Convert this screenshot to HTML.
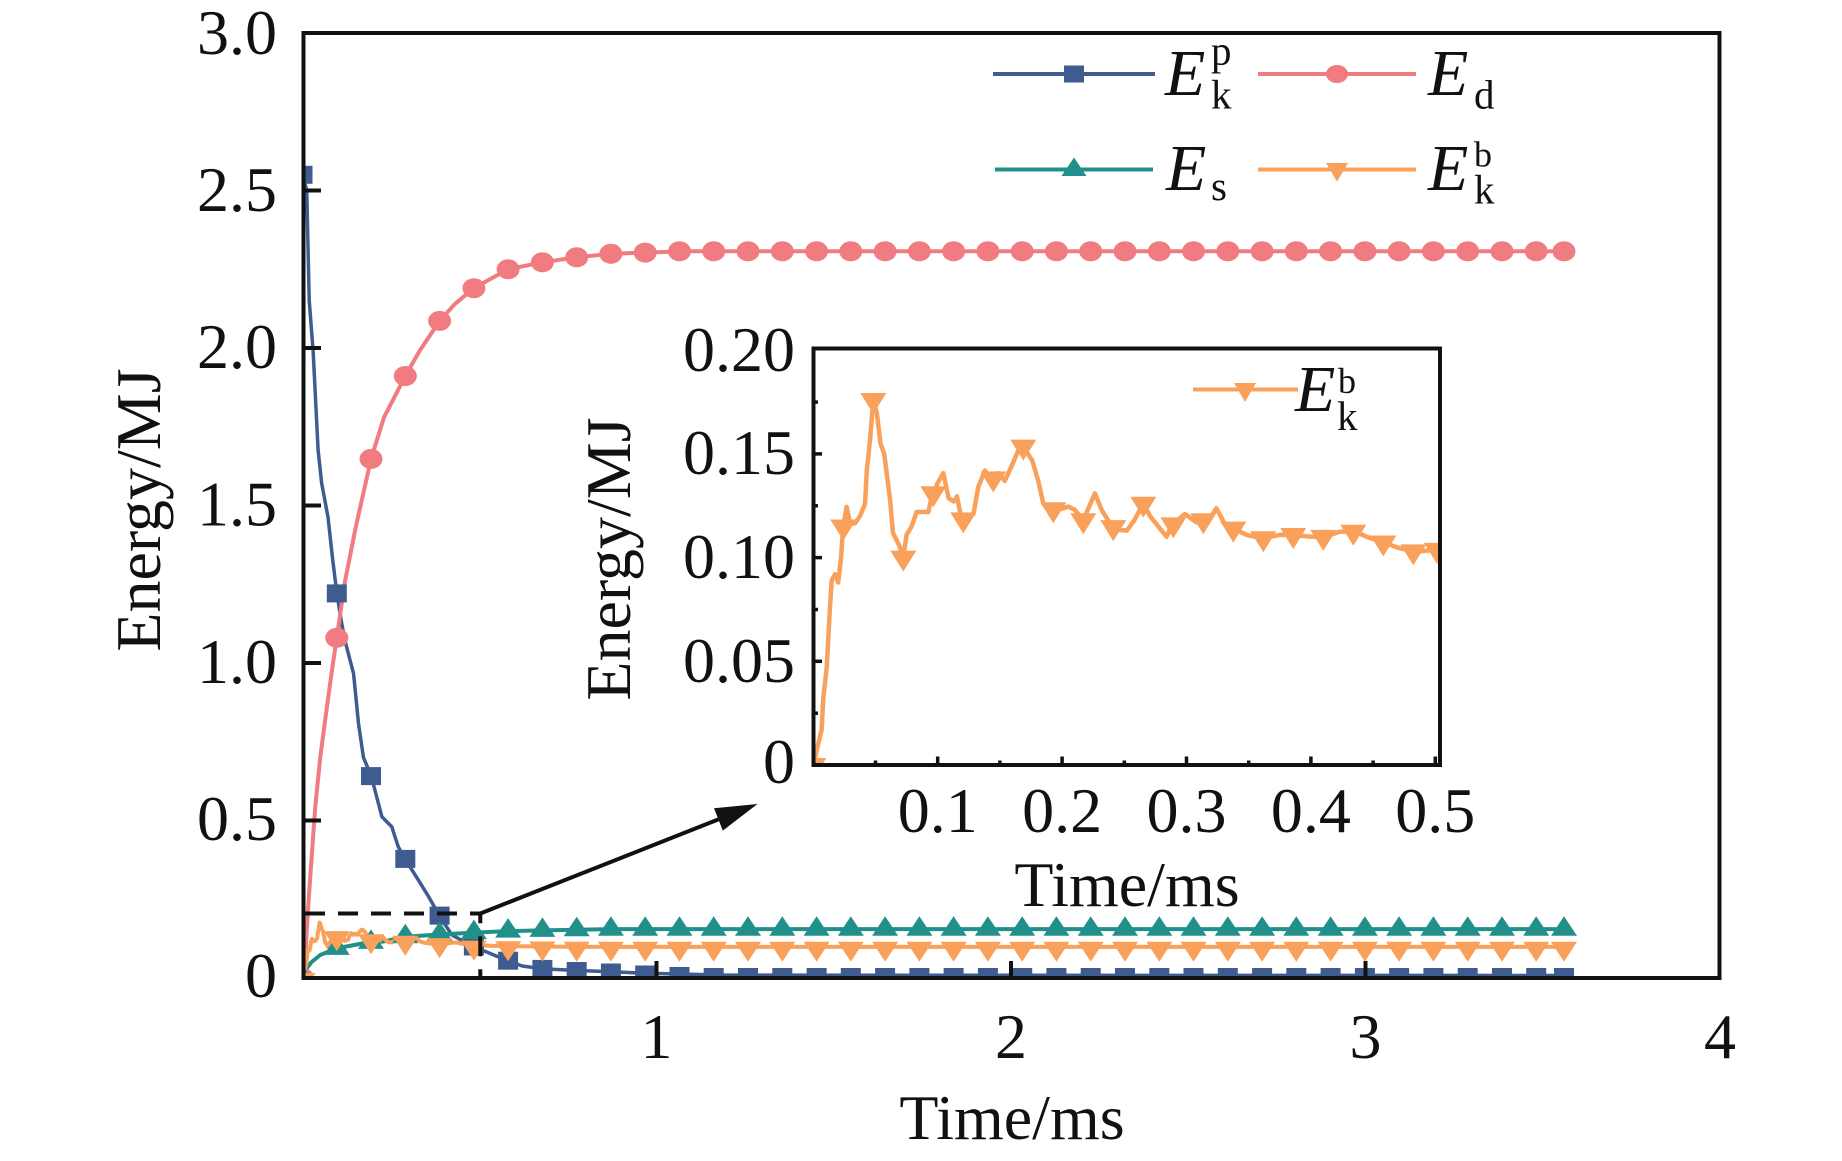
<!DOCTYPE html>
<html><head><meta charset="utf-8"><style>
html,body{margin:0;padding:0;background:#fff;}
svg{display:block;}
text{font-family:"Liberation Serif","Times New Roman",serif;fill:#111;}
</style></head><body>
<svg width="1842" height="1161" viewBox="0 0 1842 1161" xmlns="http://www.w3.org/2000/svg">
<defs>
<clipPath id="cm"><rect x="305" y="35" width="1413" height="941"/></clipPath>
<clipPath id="ci2"><rect x="815.5" y="350.5" width="622.5" height="412.5"/></clipPath>
<rect id="sq" x="-10" y="-9" width="20" height="18" fill="#3e5c8f"/>
<ellipse id="ci" rx="11.5" ry="10" fill="#f07b80"/>
<polygon id="tu" points="0,-13 13,6.5 -13,6.5" fill="#22908a"/>
<polygon id="td" points="0,15 13,-5 -13,-5" fill="#f9a05b"/>
<polygon id="td2" points="0,14 13,-7 -13,-7" fill="#f9a05b"/>
</defs>
<rect width="1842" height="1161" fill="#fff"/>

<!-- main series -->
<g clip-path="url(#cm)">
 <g transform="translate(302.5,978) scale(354.4,-315)" fill="none" stroke-linejoin="round" stroke-linecap="round">
  <path vector-effect="non-scaling-stroke" stroke="#3e5c8f" stroke-width="3.5" d="M0,2.55 L0.012,2.5 L0.019,2.15 L0.03,1.99 L0.044,1.676 L0.054,1.571 L0.072,1.463 L0.085,1.33 L0.097,1.221 L0.11,1.13 L0.12,1.07 L0.144,0.967 L0.158,0.808 L0.172,0.7 L0.194,0.641 L0.224,0.512 L0.252,0.48 L0.27,0.417 L0.289,0.378 L0.327,0.311 L0.356,0.258 L0.386,0.198 L0.421,0.137 L0.468,0.108 L0.506,0.089 L0.54,0.073 L0.578,0.055 L0.62,0.038 L0.68,0.029 L0.777,0.024 L0.873,0.02 L0.967,0.015 L1.2,0.009 L3.56,0.008"/>
  <path vector-effect="non-scaling-stroke" stroke="#f07b80" stroke-width="4" d="M0,0 L0.007,0.05 L0.016,0.226 L0.036,0.544 L0.05,0.7 L0.069,0.861 L0.082,0.968 L0.0967,1.08 L0.12,1.26 L0.15,1.43 L0.1934,1.648 L0.23,1.78 L0.29,1.911 L0.33,1.99 L0.387,2.086 L0.43,2.14 L0.4835,2.19 L0.58,2.25 L0.677,2.272 L0.774,2.288 L0.87,2.299 L0.967,2.303 L1.1,2.307 L3.56,2.307"/>
  <path vector-effect="non-scaling-stroke" stroke="#22908a" stroke-width="4" d="M0,0 L0.008,0.025 L0.025,0.05 L0.05,0.073 L0.0967,0.094 L0.17,0.11 L0.1934,0.113 L0.23,0.116 L0.29,0.131 L0.387,0.138 L0.4835,0.144 L0.58,0.149 L0.677,0.151 L0.774,0.153 L0.87,0.155 L3.56,0.155"/>
  <path vector-effect="non-scaling-stroke" stroke="#f9a05b" stroke-width="4" d="M0,0 L0.0067,0.017 L0.008,0.032 L0.0108,0.047 L0.0134,0.076 L0.0148,0.089 L0.0175,0.092 L0.02,0.088 L0.0223,0.1 L0.024,0.115 L0.0268,0.1245 L0.0295,0.1165 L0.0335,0.1165 L0.0375,0.12 L0.0416,0.126 L0.043,0.142 L0.0456,0.1567 L0.0482,0.176 L0.051,0.17 L0.054,0.155 L0.057,0.15 L0.0617,0.128 L0.064,0.112 L0.0697,0.105 L0.072,0.099 L0.075,0.111 L0.079,0.115 L0.083,0.122 L0.0925,0.122 L0.095,0.129 L0.1,0.136 L0.1045,0.1407 L0.1088,0.1286 L0.113,0.127 L0.1155,0.1295 L0.1193,0.118 L0.1287,0.121 L0.1326,0.134 L0.138,0.142 L0.1434,0.1374 L0.1487,0.1407 L0.154,0.137 L0.159,0.1436 L0.1648,0.1516 L0.1688,0.1535 L0.176,0.1468 L0.1808,0.137 L0.1849,0.126 L0.189,0.1236 L0.197,0.123 L0.205,0.1246 L0.2103,0.123 L0.217,0.118 L0.2264,0.131 L0.2318,0.123 L0.24,0.115 L0.2466,0.1133 L0.252,0.113 L0.258,0.118 L0.2653,0.126 L0.2707,0.12 L0.2787,0.114 L0.284,0.11 L0.288,0.1157 L0.2988,0.121 L0.308,0.117 L0.319,0.119 L0.324,0.1238 L0.33,0.117 L0.3376,0.114 L0.3484,0.1109 L0.3617,0.1093 L0.375,0.111 L0.3859,0.1109 L0.3992,0.1101 L0.4113,0.11 L0.4233,0.1125 L0.4354,0.1125 L0.445,0.11 L0.4596,0.107 L0.4716,0.1045 L0.4837,0.1028 L0.4997,0.1037 L0.504,0.103 L0.58,0.101 L0.677,0.1 L0.774,0.099 L3.56,0.099"/>
 </g>
 <!-- blue squares -->
 <g>
  <use href="#sq" x="302.5" y="174.8"/><use href="#sq" x="336.8" y="593.4"/><use href="#sq" x="371" y="776.1"/><use href="#sq" x="405.3" y="858.9"/><use href="#sq" x="439.6" y="915.6"/><use href="#sq" x="473.9" y="946.5"/><use href="#sq" x="508.1" y="960.7"/><use href="#sq" x="542.4" y="968.9"/><use href="#sq" x="576.7" y="971"/><use href="#sq" x="610.9" y="972.5"/><use href="#sq" x="645.2" y="974.5"/><use href="#sq" x="679.5" y="976"/><use href="#sq" x="713.7" y="977"/><use href="#sq" x="748" y="977"/><use href="#sq" x="782.3" y="977"/><use href="#sq" x="816.6" y="977"/><use href="#sq" x="850.8" y="977"/><use href="#sq" x="885.1" y="977"/><use href="#sq" x="919.4" y="977"/><use href="#sq" x="953.6" y="977"/><use href="#sq" x="987.9" y="977"/><use href="#sq" x="1022.2" y="977"/><use href="#sq" x="1056.4" y="977"/><use href="#sq" x="1090.7" y="977"/><use href="#sq" x="1125" y="977"/><use href="#sq" x="1159.3" y="977"/><use href="#sq" x="1193.5" y="977"/><use href="#sq" x="1227.8" y="977"/><use href="#sq" x="1262.1" y="977"/><use href="#sq" x="1296.3" y="977"/><use href="#sq" x="1330.6" y="977"/><use href="#sq" x="1364.9" y="977"/><use href="#sq" x="1399.1" y="977"/><use href="#sq" x="1433.4" y="977"/><use href="#sq" x="1467.7" y="977"/><use href="#sq" x="1502" y="977"/><use href="#sq" x="1536.2" y="977"/><use href="#sq" x="1564" y="977"/>
 </g>
 <!-- pink circles -->
 <g>
  <use href="#ci" x="302.5" y="978"/><use href="#ci" x="336.8" y="637.8"/><use href="#ci" x="371" y="458.9"/><use href="#ci" x="405.3" y="376"/><use href="#ci" x="439.6" y="320.9"/><use href="#ci" x="473.9" y="288.2"/><use href="#ci" x="508.1" y="269.3"/><use href="#ci" x="542.4" y="262.3"/><use href="#ci" x="576.7" y="257.3"/><use href="#ci" x="610.9" y="253.8"/><use href="#ci" x="645.2" y="252.6"/><use href="#ci" x="679.5" y="251.3"/><use href="#ci" x="713.7" y="251.3"/><use href="#ci" x="748" y="251.3"/><use href="#ci" x="782.3" y="251.3"/><use href="#ci" x="816.6" y="251.3"/><use href="#ci" x="850.8" y="251.3"/><use href="#ci" x="885.1" y="251.3"/><use href="#ci" x="919.4" y="251.3"/><use href="#ci" x="953.6" y="251.3"/><use href="#ci" x="987.9" y="251.3"/><use href="#ci" x="1022.2" y="251.3"/><use href="#ci" x="1056.4" y="251.3"/><use href="#ci" x="1090.7" y="251.3"/><use href="#ci" x="1125" y="251.3"/><use href="#ci" x="1159.3" y="251.3"/><use href="#ci" x="1193.5" y="251.3"/><use href="#ci" x="1227.8" y="251.3"/><use href="#ci" x="1262.1" y="251.3"/><use href="#ci" x="1296.3" y="251.3"/><use href="#ci" x="1330.6" y="251.3"/><use href="#ci" x="1364.9" y="251.3"/><use href="#ci" x="1399.1" y="251.3"/><use href="#ci" x="1433.4" y="251.3"/><use href="#ci" x="1467.7" y="251.3"/><use href="#ci" x="1502" y="251.3"/><use href="#ci" x="1536.2" y="251.3"/><use href="#ci" x="1564" y="251.3"/>
 </g>
 <!-- teal triangles -->
 <g>
  <use href="#tu" x="302.5" y="978"/><use href="#tu" x="336.8" y="948.4"/><use href="#tu" x="371" y="942.4"/><use href="#tu" x="405.3" y="936.7"/><use href="#tu" x="439.6" y="934.5"/><use href="#tu" x="473.9" y="932.6"/><use href="#tu" x="508.1" y="931.1"/><use href="#tu" x="542.4" y="930.4"/><use href="#tu" x="576.7" y="929.8"/><use href="#tu" x="610.9" y="929.2"/><use href="#tu" x="645.2" y="929.2"/><use href="#tu" x="679.5" y="929.2"/><use href="#tu" x="713.7" y="929.2"/><use href="#tu" x="748" y="929.2"/><use href="#tu" x="782.3" y="929.2"/><use href="#tu" x="816.6" y="929.2"/><use href="#tu" x="850.8" y="929.2"/><use href="#tu" x="885.1" y="929.2"/><use href="#tu" x="919.4" y="929.2"/><use href="#tu" x="953.6" y="929.2"/><use href="#tu" x="987.9" y="929.2"/><use href="#tu" x="1022.2" y="929.2"/><use href="#tu" x="1056.4" y="929.2"/><use href="#tu" x="1090.7" y="929.2"/><use href="#tu" x="1125" y="929.2"/><use href="#tu" x="1159.3" y="929.2"/><use href="#tu" x="1193.5" y="929.2"/><use href="#tu" x="1227.8" y="929.2"/><use href="#tu" x="1262.1" y="929.2"/><use href="#tu" x="1296.3" y="929.2"/><use href="#tu" x="1330.6" y="929.2"/><use href="#tu" x="1364.9" y="929.2"/><use href="#tu" x="1399.1" y="929.2"/><use href="#tu" x="1433.4" y="929.2"/><use href="#tu" x="1467.7" y="929.2"/><use href="#tu" x="1502" y="929.2"/><use href="#tu" x="1536.2" y="929.2"/><use href="#tu" x="1564" y="929.2"/>
 </g>
 <!-- orange triangles -->
 <g>
  <use href="#td" x="302.5" y="978"/><use href="#td" x="336.8" y="936.1"/><use href="#td" x="371" y="939.3"/><use href="#td" x="405.3" y="940.8"/><use href="#td" x="439.6" y="943.1"/><use href="#td" x="473.9" y="945.6"/><use href="#td" x="508.1" y="946.2"/><use href="#td" x="542.4" y="946.5"/><use href="#td" x="576.7" y="946.8"/><use href="#td" x="610.9" y="946.8"/><use href="#td" x="645.2" y="946.8"/><use href="#td" x="679.5" y="946.8"/><use href="#td" x="713.7" y="946.8"/><use href="#td" x="748" y="946.8"/><use href="#td" x="782.3" y="946.8"/><use href="#td" x="816.6" y="946.8"/><use href="#td" x="850.8" y="946.8"/><use href="#td" x="885.1" y="946.8"/><use href="#td" x="919.4" y="946.8"/><use href="#td" x="953.6" y="946.8"/><use href="#td" x="987.9" y="946.8"/><use href="#td" x="1022.2" y="946.8"/><use href="#td" x="1056.4" y="946.8"/><use href="#td" x="1090.7" y="946.8"/><use href="#td" x="1125" y="946.8"/><use href="#td" x="1159.3" y="946.8"/><use href="#td" x="1193.5" y="946.8"/><use href="#td" x="1227.8" y="946.8"/><use href="#td" x="1262.1" y="946.8"/><use href="#td" x="1296.3" y="946.8"/><use href="#td" x="1330.6" y="946.8"/><use href="#td" x="1364.9" y="946.8"/><use href="#td" x="1399.1" y="946.8"/><use href="#td" x="1433.4" y="946.8"/><use href="#td" x="1467.7" y="946.8"/><use href="#td" x="1502" y="946.8"/><use href="#td" x="1536.2" y="946.8"/><use href="#td" x="1564" y="946.8"/>
 </g>
</g>

<!-- dashed box & arrow -->
<path d="M305,913.5 H480.3 V976" fill="none" stroke="#111" stroke-width="4" stroke-dasharray="20 13"/>
<line x1="480.3" y1="913.5" x2="718.4" y2="819.4" stroke="#111" stroke-width="4"/>
<polygon points="757.5,804 722.8,830.6 714,808.2" fill="#111"/>

<!-- main axes -->
<rect x="303.5" y="33" width="1416" height="945" fill="none" stroke="#111" stroke-width="4"/>
<g stroke="#111" stroke-width="4">
 <line x1="303" y1="820.5" x2="321" y2="820.5"/>
 <line x1="303" y1="663" x2="321" y2="663"/>
 <line x1="303" y1="505.5" x2="321" y2="505.5"/>
 <line x1="303" y1="348" x2="321" y2="348"/>
 <line x1="303" y1="190.5" x2="321" y2="190.5"/>
 <line x1="656.5" y1="978" x2="656.5" y2="961"/>
 <line x1="1011" y1="978" x2="1011" y2="961"/>
 <line x1="1365.5" y1="978" x2="1365.5" y2="961"/>
</g>
<g font-size="64" text-anchor="end">
 <text x="277" y="997">0</text>
 <text x="277" y="840">0.5</text>
 <text x="277" y="683">1.0</text>
 <text x="277" y="525.5">1.5</text>
 <text x="277" y="368">2.0</text>
 <text x="277" y="211">2.5</text>
 <text x="277" y="54">3.0</text>
</g>
<g font-size="64" text-anchor="middle">
 <text x="656.5" y="1058">1</text>
 <text x="1011" y="1058">2</text>
 <text x="1365.5" y="1058">3</text>
 <text x="1720" y="1058">4</text>
 <text x="1012" y="1139">Time/ms</text>
 <text transform="translate(160,510) rotate(-90)" x="0" y="0">Energy/MJ</text>
</g>

<!-- main legend -->
<g stroke-width="4">
 <line x1="993" y1="74" x2="1155" y2="74" stroke="#3e5c8f"/>
 <line x1="1258" y1="74" x2="1416" y2="74" stroke="#f07b80"/>
 <line x1="995" y1="169.5" x2="1153" y2="169.5" stroke="#22908a"/>
 <line x1="1258" y1="169.5" x2="1416" y2="169.5" stroke="#f9a05b"/>
</g>
<rect x="1064" y="65.5" width="20" height="17" fill="#3e5c8f"/>
<ellipse cx="1337" cy="74" rx="11" ry="9" fill="#f07b80"/>
<polygon points="1074,157.5 1086.5,176 1061.5,176" fill="#22908a"/>
<polygon points="1337,181.5 1348,163 1326,163" fill="#f9a05b"/>
<text x="1165" y="95" font-size="66" font-style="italic">E</text>
<text x="1211" y="64.5" font-size="41">p</text>
<text x="1211" y="108.5" font-size="41">k</text>
<text x="1428" y="95" font-size="66" font-style="italic">E</text>
<text x="1474" y="108.5" font-size="41">d</text>
<text x="1166" y="190" font-size="66" font-style="italic">E</text>
<text x="1211" y="200" font-size="41">s</text>
<text x="1428" y="190" font-size="66" font-style="italic">E</text>
<text x="1474" y="166.5" font-size="36">b</text>
<text x="1474" y="203.5" font-size="41">k</text>

<!-- inset -->
<rect x="813.5" y="348.5" width="626.5" height="416.5" fill="#fff" stroke="none"/>
<g clip-path="url(#ci2)">
 <g transform="translate(813.3,765) scale(1244,-2074)" fill="none" stroke-linejoin="round" stroke-linecap="round">
  <path vector-effect="non-scaling-stroke" stroke="#f9a05b" stroke-width="4.5" d="M0,0 L0.0067,0.017 L0.008,0.032 L0.0108,0.047 L0.0134,0.076 L0.0148,0.089 L0.0175,0.092 L0.02,0.088 L0.0223,0.1 L0.024,0.115 L0.0268,0.1245 L0.0295,0.1165 L0.0335,0.1165 L0.0375,0.12 L0.0416,0.126 L0.043,0.142 L0.0456,0.1567 L0.0482,0.176 L0.051,0.17 L0.054,0.155 L0.057,0.15 L0.0617,0.128 L0.064,0.112 L0.0697,0.105 L0.072,0.099 L0.075,0.111 L0.079,0.115 L0.083,0.122 L0.0925,0.122 L0.095,0.129 L0.1,0.136 L0.1045,0.1407 L0.1088,0.1286 L0.113,0.127 L0.1155,0.1295 L0.1193,0.118 L0.1287,0.121 L0.1326,0.134 L0.138,0.142 L0.1434,0.1374 L0.1487,0.1407 L0.154,0.137 L0.159,0.1436 L0.1648,0.1516 L0.1688,0.1535 L0.176,0.1468 L0.1808,0.137 L0.1849,0.126 L0.189,0.1236 L0.197,0.123 L0.205,0.1246 L0.2103,0.123 L0.217,0.118 L0.2264,0.131 L0.2318,0.123 L0.24,0.115 L0.2466,0.1133 L0.252,0.113 L0.258,0.118 L0.2653,0.126 L0.2707,0.12 L0.2787,0.114 L0.284,0.11 L0.288,0.1157 L0.2988,0.121 L0.308,0.117 L0.319,0.119 L0.324,0.1238 L0.33,0.117 L0.3376,0.114 L0.3484,0.1109 L0.3617,0.1093 L0.375,0.111 L0.3859,0.1109 L0.3992,0.1101 L0.4113,0.11 L0.4233,0.1125 L0.4354,0.1125 L0.445,0.11 L0.4596,0.107 L0.4716,0.1045 L0.4837,0.1028 L0.4997,0.1037 L0.504,0.103"/>
 </g>
 <use href="#td2" x="813.3" y="765"/><use href="#td2" x="843.3" y="526.5"/><use href="#td2" x="873.3" y="400"/><use href="#td2" x="903.3" y="557.6"/><use href="#td2" x="933.3" y="493.3"/><use href="#td2" x="963.3" y="519.4"/><use href="#td2" x="993.3" y="478.4"/><use href="#td2" x="1023.3" y="446.6"/><use href="#td2" x="1053.3" y="509.3"/><use href="#td2" x="1083.3" y="520.3"/><use href="#td2" x="1113.3" y="527.1"/><use href="#td2" x="1143.3" y="503.7"/><use href="#td2" x="1173.3" y="524.4"/><use href="#td2" x="1203.3" y="520.3"/><use href="#td2" x="1233.3" y="528.6"/><use href="#td2" x="1263.3" y="538.3"/><use href="#td2" x="1293.3" y="535"/><use href="#td2" x="1323.3" y="536.9"/><use href="#td2" x="1353.3" y="531.7"/><use href="#td2" x="1383.3" y="542.5"/><use href="#td2" x="1413.3" y="551.4"/><use href="#td2" x="1437" y="549.9"/>
</g>
<rect x="813.5" y="348.5" width="626.5" height="416.5" fill="none" stroke="#111" stroke-width="4"/>
<g stroke="#111" stroke-width="3.5">
 <line x1="813.5" y1="713.2" x2="818" y2="713.2"/>
 <line x1="813.5" y1="661.3" x2="822" y2="661.3"/>
 <line x1="813.5" y1="609.5" x2="818" y2="609.5"/>
 <line x1="813.5" y1="557.6" x2="822" y2="557.6"/>
 <line x1="813.5" y1="505.8" x2="818" y2="505.8"/>
 <line x1="813.5" y1="453.9" x2="822" y2="453.9"/>
 <line x1="813.5" y1="402.1" x2="818" y2="402.1"/>
 <line x1="875.5" y1="765" x2="875.5" y2="760.5"/>
 <line x1="937.7" y1="765" x2="937.7" y2="756.5"/>
 <line x1="999.9" y1="765" x2="999.9" y2="760.5"/>
 <line x1="1062.1" y1="765" x2="1062.1" y2="756.5"/>
 <line x1="1124.3" y1="765" x2="1124.3" y2="760.5"/>
 <line x1="1186.5" y1="765" x2="1186.5" y2="756.5"/>
 <line x1="1248.7" y1="765" x2="1248.7" y2="760.5"/>
 <line x1="1310.9" y1="765" x2="1310.9" y2="756.5"/>
 <line x1="1373.1" y1="765" x2="1373.1" y2="760.5"/>
 <line x1="1435.3" y1="765" x2="1435.3" y2="756.5"/>
</g>
<g font-size="64" text-anchor="end">
 <text x="795" y="783">0</text>
 <text x="795" y="682">0.05</text>
 <text x="795" y="578">0.10</text>
 <text x="795" y="474">0.15</text>
 <text x="795" y="371">0.20</text>
</g>
<g font-size="64" text-anchor="middle">
 <text x="937.7" y="832">0.1</text>
 <text x="1062.1" y="832">0.2</text>
 <text x="1186.5" y="832">0.3</text>
 <text x="1310.9" y="832">0.4</text>
 <text x="1435.3" y="832">0.5</text>
 <text x="1127" y="906">Time/ms</text>
 <text transform="translate(630,559) rotate(-90)" x="0" y="0">Energy/MJ</text>
</g>
<!-- inset legend -->
<line x1="1193" y1="389.5" x2="1298" y2="389.5" stroke="#f9a05b" stroke-width="4"/>
<polygon points="1245,402 1256,383 1234,383" fill="#f9a05b"/>
<text x="1295" y="411" font-size="66" font-style="italic">E</text>
<text x="1338" y="393" font-size="36">b</text>
<text x="1337" y="430" font-size="41">k</text>
</svg>
</body></html>
